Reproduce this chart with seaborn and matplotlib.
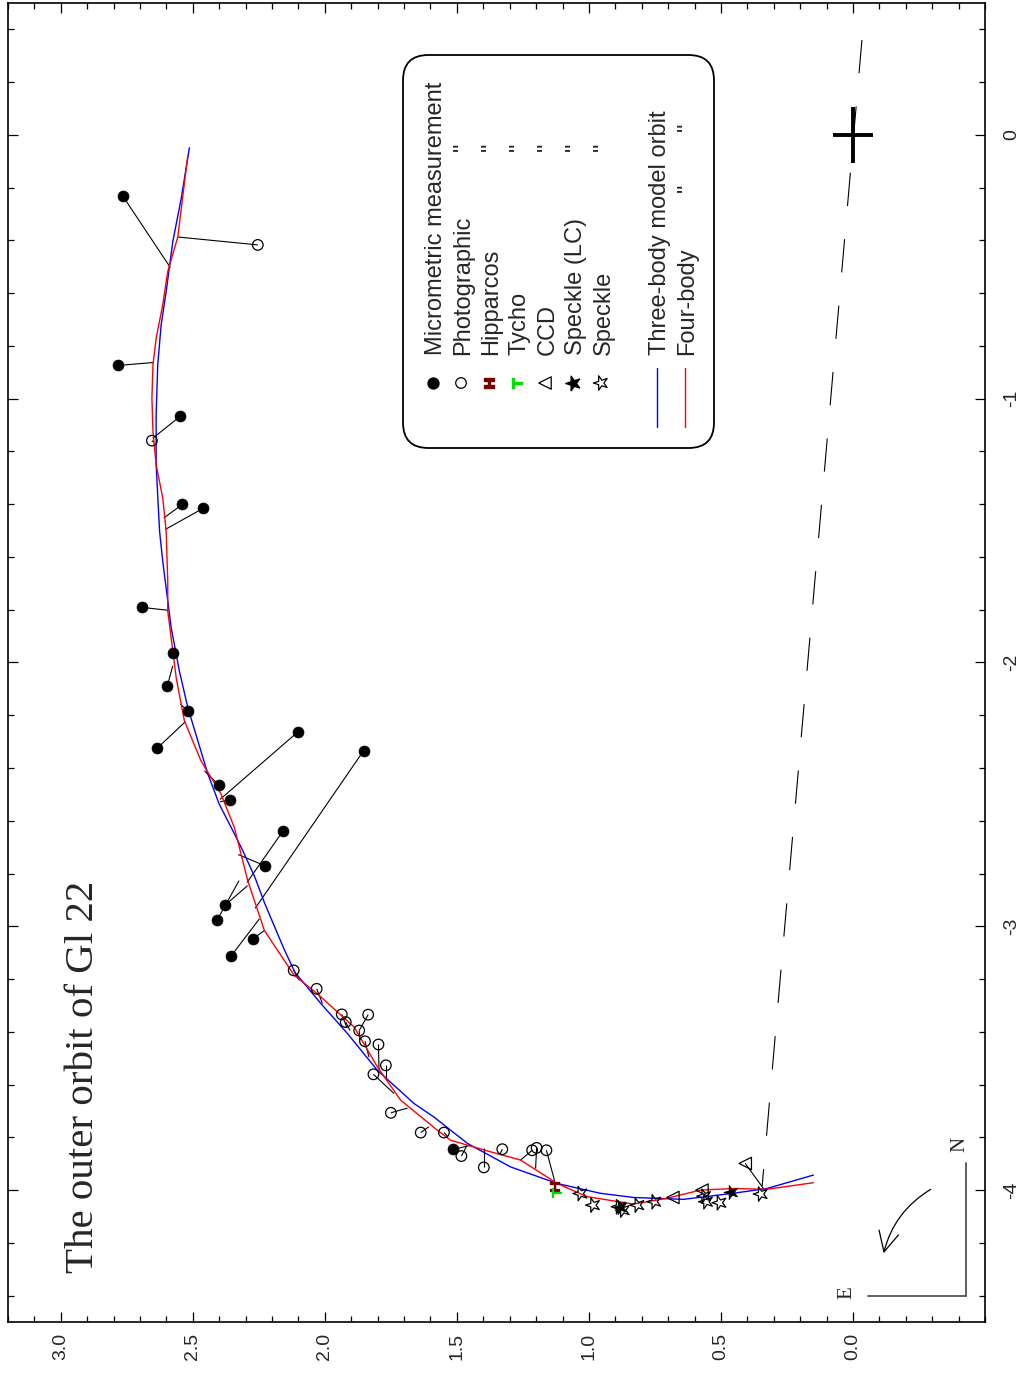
import numpy as np
import matplotlib
matplotlib.use("Agg")
import matplotlib.pyplot as plt
import seaborn as sns
from matplotlib.markers import MarkerStyle
from matplotlib.transforms import Affine2D
from matplotlib.collections import LineCollection
from matplotlib.patches import FancyBboxPatch, FancyArrowPatch
from matplotlib.ticker import MultipleLocator

# ---------------- data ----------------
# x : coordinate on the right-hand axis (0 ... -4)
# y : coordinate on the bottom axis (3.0 ... 0.0)
three_body_x = [-0.049, -0.241, -0.405, -0.594, -0.720, -0.872, -1.061, -1.250, -1.502, -1.616,
                -1.868, -2.032, -2.171, -2.297, -2.423, -2.537, -2.625, -2.713, -2.814, -2.910,
                -3.005, -3.090, -3.175, -3.293, -3.407, -3.546, -3.672, -3.723, -3.823, -3.912,
                -3.975, -4.012, -4.028, -4.035, -4.012, -3.994, -3.943]
three_body_y = [2.513, 2.544, 2.576, 2.601, 2.620, 2.633, 2.639, 2.639, 2.626, 2.614,
                2.582, 2.551, 2.519, 2.481, 2.443, 2.400, 2.355, 2.311, 2.265, 2.229,
                2.189, 2.153, 2.113, 2.015, 1.914, 1.801, 1.662, 1.587, 1.460, 1.297,
                1.120, 0.957, 0.831, 0.642, 0.453, 0.326, 0.150]

four_body_x = [-0.077, -0.387, -0.518, -0.644, -0.771, -0.872, -0.998, -1.124, -1.250, -1.376,
               -1.502, -1.692, -1.805, -2.058, -2.221, -2.373, -2.499, -2.625, -2.827, -3.016,
               -3.186, -3.256, -3.382, -3.533, -3.659, -3.773, -3.811, -3.855, -3.886, -3.975,
               -4.025, -4.053, -4.031, -4.000, -3.994, -3.997, -3.972]
four_body_y = [2.519, 2.557, 2.595, 2.614, 2.639, 2.651, 2.655, 2.651, 2.639, 2.614,
               2.601, 2.595, 2.595, 2.563, 2.532, 2.469, 2.393, 2.343, 2.292, 2.229,
               2.116, 2.028, 1.889, 1.801, 1.713, 1.574, 1.524, 1.372, 1.259, 1.120,
               1.007, 0.831, 0.704, 0.578, 0.453, 0.326, 0.150]

micro_x = [-0.232, -0.874, -1.067, -1.401, -1.415, -1.791, -1.965, -2.090, -2.185, -2.324,
           -2.263, -2.334, -2.464, -2.520, -2.638, -2.771, -2.919, -2.978, -3.048, -3.111, -3.846]
micro_y = [2.765, 2.784, 2.548, 2.540, 2.460, 2.692, 2.574, 2.597, 2.517, 2.634,
           2.102, 1.853, 2.402, 2.360, 2.158, 2.226, 2.377, 2.409, 2.273, 2.354, 1.513]
micro_fit_x = [-0.503, -0.863, -1.150, -1.452, -1.496, -1.802, -1.975, -2.013, -2.158, -2.224,
               -2.519, -2.932, -2.411, -2.528, -2.834, -2.728, -2.846, -2.827, -3.016, -2.972, -3.830]
micro_fit_y = [2.585, 2.651, 2.652, 2.610, 2.605, 2.595, 2.578, 2.576, 2.547, 2.528,
               2.397, 2.264, 2.456, 2.397, 2.295, 2.328, 2.293, 2.325, 2.229, 2.248, 1.448]

photo_x = [-0.417, -1.159, -3.167, -3.237, -3.334, -3.363, -3.335, -3.395, -3.436, -3.448,
           -3.527, -3.561, -3.707, -3.782, -3.782, -3.871, -3.914, -3.845, -3.849, -3.840, -3.849]
photo_y = [2.254, 2.655, 2.118, 2.031, 1.936, 1.921, 1.836, 1.870, 1.848, 1.797,
           1.769, 1.816, 1.750, 1.637, 1.549, 1.483, 1.398, 1.328, 1.215, 1.198, 1.161]
photo_fit_x = [-0.387, -1.166, -3.205, -3.293, -3.383, -3.395, -3.395, -3.432, -3.496, -3.546,
               -3.584, -3.634, -3.689, -3.760, -3.796, -3.833, -3.842, -3.867, -3.886, -3.918, -3.965]
photo_fit_y = [2.557, 2.647, 2.097, 2.009, 1.917, 1.905, 1.870, 1.868, 1.833, 1.795,
               1.769, 1.738, 1.687, 1.606, 1.535, 1.463, 1.398, 1.338, 1.259, 1.202, 1.130]

hip_x = [-3.990]
hip_y = [1.130]
tycho_x = [-4.010]
tycho_y = [1.120]

ccd_x = [-4.028, -4.000, -3.899]
ccd_y = [0.682, 0.572, 0.408]
ccd_fit_x = [-4.028, -4.000, -3.994]
ccd_fit_y = [0.682, 0.572, 0.339]

speckle_lc_x = [-4.064, -4.006]
speckle_lc_y = [0.881, 0.461]

speckle_x = [-4.013, -4.057, -4.063, -4.076, -4.057, -4.044, -4.023, -4.044, -4.048, -4.015]
speckle_y = [1.032, 0.984, 0.887, 0.871, 0.816, 0.752, 0.563, 0.556, 0.505, 0.349]

node_x = [0.360, -3.985]
node_y = [-0.034, 0.344]

primary_x = [0.0]
primary_y = [0.0]
primary_err_x = [0.106]
primary_err_y = [0.0775]

bottom_ticks = [3.0, 2.5, 2.0, 1.5, 1.0, 0.5, 0.0]
bottom_tick_labels = ["3.0", "2.5", "2.0", "1.5", "1.0", "0.5", "0.0"]
right_ticks = [0, -1, -2, -3, -4]
right_tick_labels = ["0", "-1", "-2", "-3", "-4"]

legend_labels = ["Micrometric measurement", "Photographic", "Hipparcos", "Tycho", "CCD",
                 "Speckle (LC)", "Speckle", "Three-body model orbit", "Four-body"]
title_text = "The outer orbit of Gl 22"

# ---------------- style ----------------
sns.set_style("white")
plt.rcParams['font.family'] = ['Liberation Sans', 'DejaVu Sans']
plt.rcParams['axes.edgecolor'] = 'black'
plt.rcParams['axes.linewidth'] = 1.2

W, H = 1021, 1376
fig = plt.figure(figsize=(W / 100, H / 100), dpi=100)
AX_L, AX_R, AX_T, AX_B = 8, 985, 3, 1322
ax = fig.add_axes([AX_L / W, (H - AX_B) / H, (AX_R - AX_L) / W, (AX_B - AX_T) / H])


def fx(px):
    return (px - AX_L) / (AX_R - AX_L)


def fy(py):
    return (AX_B - py) / (AX_B - AX_T)


rot90 = Affine2D().rotate_deg(90)
star_m = MarkerStyle('*', transform=rot90)
tri_m = MarkerStyle('<')
H_m = MarkerStyle(r'$\mathbf{H}$', transform=Affine2D().rotate_deg(90))
T_m = MarkerStyle(r'$\mathbf{T}$', transform=Affine2D().rotate_deg(90))
HIP_COLOR = '#7a0000'
TYC_COLOR = '#00dd00'
BLUE = '#0000ff'
RED = '#ff0000'

# node line
ax.plot(node_y, node_x, color='black', lw=0.8, dashes=(30, 30), zorder=1)

# residual lines
segs = []
for a, b, c, d in zip(micro_y, micro_x, micro_fit_y, micro_fit_x):
    segs.append([(a, b), (c, d)])
for a, b, c, d in zip(photo_y, photo_x, photo_fit_y, photo_fit_x):
    segs.append([(a, b), (c, d)])
for a, b, c, d in zip(ccd_y, ccd_x, ccd_fit_y, ccd_fit_x):
    segs.append([(a, b), (c, d)])
ax.add_collection(LineCollection(segs, colors='black', linewidths=0.8, zorder=2))

# orbits
sns.lineplot(x=three_body_y, y=three_body_x, sort=False, estimator=None,
             color=BLUE, lw=1.0, ax=ax, zorder=3)
sns.lineplot(x=four_body_y, y=four_body_x, sort=False, estimator=None,
             color=RED, lw=1.0, ax=ax, zorder=3)

# observations
sns.scatterplot(x=micro_y, y=micro_x, marker='o', s=62, color='black',
                edgecolor='black', linewidth=0.5, ax=ax, zorder=4)
sns.scatterplot(x=photo_y, y=photo_x, marker='o', s=58, color='black',
                facecolor='none', edgecolor='black', linewidth=0.9, ax=ax, zorder=4)
sns.scatterplot(x=ccd_y, y=ccd_x, marker=tri_m, s=80, color='black',
                facecolor='none', edgecolor='black', linewidth=0.9, ax=ax, zorder=4)
sns.scatterplot(x=speckle_y, y=speckle_x, marker=star_m, s=120, color='black',
                facecolor='none', edgecolor='black', linewidth=0.9, ax=ax, zorder=4)
sns.scatterplot(x=speckle_lc_y, y=speckle_lc_x, marker=star_m, s=120, color='black',
                edgecolor='black', linewidth=0.5, ax=ax, zorder=5)
sns.scatterplot(x=hip_y, y=hip_x, marker=H_m, s=60, color=HIP_COLOR,
                edgecolor=HIP_COLOR, linewidth=0.2, ax=ax, zorder=5)
sns.scatterplot(x=tycho_y, y=tycho_x, marker=T_m, s=60, color=TYC_COLOR,
                edgecolor=TYC_COLOR, linewidth=0.2, ax=ax, zorder=5)

# primary star
ax.errorbar(primary_y, primary_x, xerr=primary_err_y, yerr=primary_err_x, fmt='none',
            ecolor='black', elinewidth=2.8, capsize=0, zorder=6)

# ---------------- axes ----------------
ax.set_xlim(3.2, -0.5)
ax.set_ylim(-4.5, 0.5)
ax.set_xticks(bottom_ticks)
ax.set_xticklabels(bottom_tick_labels, rotation=90, fontsize=14)
ax.xaxis.set_minor_locator(MultipleLocator(0.1))
ax.set_yticks(right_ticks)
ax.set_yticklabels(right_tick_labels, rotation=90, fontsize=14, va='center')
ax.yaxis.set_minor_locator(MultipleLocator(0.2))
ax.tick_params(which='both', direction='in', top=True, bottom=True, left=True, right=True,
               labelleft=False, labelright=True, labeltop=False, labelbottom=True,
               color='black', width=0.9)
ax.tick_params(which='major', length=7)
ax.tick_params(which='minor', length=4)
ax.tick_params(axis='x', pad=8)
ax.tick_params(axis='y', pad=13)
ax.set_xlabel("")
ax.set_ylabel("")

# title
ax.text(fx(93), fy(1273), title_text, transform=ax.transAxes, rotation=90,
        rotation_mode='anchor', ha='left', va='baseline', fontsize=29.5,
        family=['Liberation Serif', 'DejaVu Serif'])

# ---------------- legend (drawn rotated) ----------------
box = FancyBboxPatch((fx(403), fy(448)), fx(714) - fx(403), fy(55) - fy(448),
                     boxstyle="round,pad=0,rounding_size=0.026",
                     mutation_aspect=(AX_R - AX_L) / (AX_B - AX_T),
                     transform=ax.transAxes, facecolor='white', edgecolor='black',
                     lw=1.3, zorder=7)
ax.add_patch(box)

row_px = [433, 461, 489, 517, 545, 573, 601, 657, 685]
marker_py = 383
text_py = 355
leg_kw = dict(transform=ax.transAxes, clip_on=False, zorder=8)
ax.scatter([fx(row_px[0])], [fy(marker_py)], marker='o', s=62, color='black', **leg_kw)
ax.scatter([fx(row_px[1])], [fy(marker_py)], marker='o', s=58, facecolor='none',
           edgecolor='black', linewidth=0.9, **leg_kw)
ax.scatter([fx(row_px[2])], [fy(marker_py)], marker=H_m, s=60, color=HIP_COLOR, **leg_kw)
ax.scatter([fx(row_px[3])], [fy(marker_py)], marker=T_m, s=60, color=TYC_COLOR, **leg_kw)
ax.scatter([fx(row_px[4])], [fy(marker_py)], marker=tri_m, s=80, facecolor='none',
           edgecolor='black', linewidth=0.9, **leg_kw)
ax.scatter([fx(row_px[5])], [fy(marker_py)], marker=star_m, s=120, color='black', **leg_kw)
ax.scatter([fx(row_px[6])], [fy(marker_py)], marker=star_m, s=120, facecolor='none',
           edgecolor='black', linewidth=0.9, **leg_kw)
ax.plot([fx(row_px[7])] * 2, [fy(368), fy(427)], color=BLUE, lw=1.0, **leg_kw)
ax.plot([fx(row_px[8])] * 2, [fy(368), fy(427)], color=RED, lw=1.0, **leg_kw)

for px, lab in zip(row_px, legend_labels):
    ax.text(fx(px + 8.5), fy(text_py), lab, transform=ax.transAxes, rotation=90,
            rotation_mode='anchor', ha='left', va='baseline', fontsize=17, zorder=8)
for px in row_px[1:7]:
    ax.text(fx(px + 8.5), fy(147), '"', transform=ax.transAxes, rotation=90,
            rotation_mode='anchor', ha='center', va='baseline', fontsize=17, zorder=8)
for py in (188, 127):
    ax.text(fx(row_px[8] + 8.5), fy(py), '"', transform=ax.transAxes, rotation=90,
            rotation_mode='anchor', ha='center', va='baseline', fontsize=17, zorder=8)

# ---------------- compass ----------------
GRAY = '#555555'
ax.plot([fx(966), fx(966)], [fy(1163), fy(1296)], color=GRAY, lw=1.3, transform=ax.transAxes)
ax.plot([fx(868), fx(966)], [fy(1296), fy(1296)], color=GRAY, lw=1.3, transform=ax.transAxes)
ax.text(fx(960), fy(1144), "N", transform=ax.transAxes, rotation=90, ha='center', va='center',
        fontsize=15, family=['Liberation Serif', 'DejaVu Serif'])
ax.text(fx(847), fy(1293), "E", transform=ax.transAxes, rotation=90, ha='center', va='center',
        fontsize=15, family=['Liberation Serif', 'DejaVu Serif'])
arrow = FancyArrowPatch((fx(933), fy(1188)), (fx(883), fy(1256)), transform=ax.transAxes,
                        connectionstyle="arc3,rad=0.22",
                        arrowstyle="->,head_length=0.9,head_width=0.45",
                        mutation_scale=16, color='black', lw=0.9)
ax.add_patch(arrow)

fig.savefig("out.png", dpi=100)
